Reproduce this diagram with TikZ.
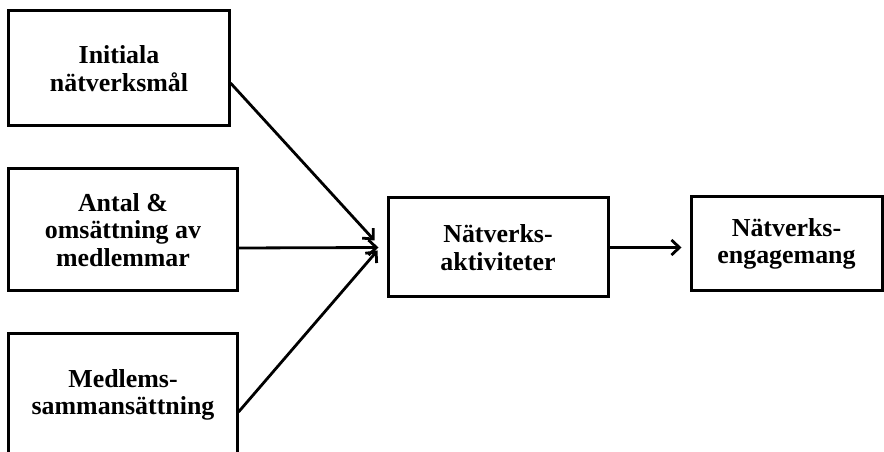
\documentclass[tikz,border=0pt]{standalone}
\usepackage{fontspec}
\setmainfont{Liberation Serif}
\usetikzlibrary{arrows.meta}
\begin{document}
\begin{tikzpicture}[x=1bp,y=-1bp,
  box/.style={draw=black, line width=3bp, align=center, inner sep=0pt,
    font=\fontsize{26}{27.5}\selectfont\bfseries},
  conn/.style={line width=2.8bp, -{Straight Barb[length=8bp,width=15bp,line width=2.8bp]}}]
\useasboundingbox (0,0) rectangle (884,452);
\node[box, minimum width=220bp, minimum height=115bp] (b1) at (119,68.5) {Initiala\\nätverksmål};
\node[box, minimum width=228bp, minimum height=122bp] (b2) at (123,230) {Antal \&\\omsättning av\\medlemmar};
\node[box, minimum width=228bp, minimum height=124bp, text depth=0pt] (b3) at (123,396) {};
\node[font=\fontsize{26}{27.5}\selectfont\bfseries, align=center] (t3) at (123,395) {Medlems-\\sammansättning};
\node[box, minimum width=220bp, minimum height=99bp] (mid) at (498,247.5) {Nätverks-\\aktiviteter};
\node[box, minimum width=191bp, minimum height=94bp] (res) at (786.5,244) {Nätverks-\\engagemang};
\coordinate (e1) at ([xshift=-12bp,yshift=7bp]mid.west);
\coordinate (e2) at ([xshift=-8bp,yshift=0bp]mid.west);
\coordinate (e3) at ([xshift=-9bp,yshift=-3bp]mid.west);
\draw[conn] ([yshift=-14.5bp]b1.east) -- (e1);
\draw[conn] ([yshift=-18bp]b2.east) -- (e2);
\draw[conn] ([yshift=-16bp]b3.east) -- (e3);
\draw[conn] (mid.east) -- ([xshift=-8bp]res.west |- mid.east);
\end{tikzpicture}
\end{document}
